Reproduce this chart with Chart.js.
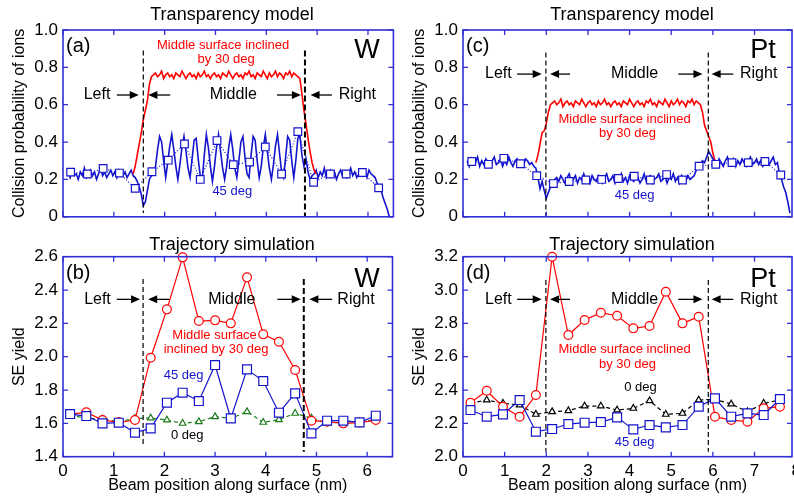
<!DOCTYPE html>
<html>
<head>
<meta charset="utf-8">
<script src="https://cdn.jsdelivr.net/npm/chart.js@4.4.1/dist/chart.umd.min.js"></script>
<style>
  html, body { margin: 0; padding: 0; background: #fff; overflow: hidden; }
  #wrap { position: relative; width: 794px; height: 498px; overflow: hidden; }
  canvas { position: absolute; }
</style>
</head>
<body>
<div id="wrap">
  <canvas id="ca" width="400" height="232" style="left:0;top:0"></canvas>
  <canvas id="cb" width="400" height="266" style="left:0;top:232px"></canvas>
  <canvas id="cc" width="420" height="232" style="left:400px;top:0"></canvas>
  <canvas id="cd" width="420" height="266" style="left:400px;top:232px"></canvas>
</div>
<script>
// ---- tick values ----
const xTicksW = [0, 1, 2, 3, 4, 5, 6];
const xTicksPt = [0, 1, 2, 3, 4, 5, 6, 7, 8];
const yTicksProb = [0, 0.2, 0.4, 0.6, 0.8, 1.0];
const yTicksSeW = [1.4, 1.6, 1.8, 2.0, 2.2, 2.4, 2.6];
const yTicksSePt = [2.0, 2.2, 2.4, 2.6, 2.8, 3.0, 3.2];

// ---- (a) W, transparency model: traces sampled every 0.04 nm ----
const aBlueX0 = 0.10, aRedX0 = 1.38, aStep = 0.04;
const aBlue45 = [
  0.24,0.21,0.25,0.22,0.23,0.20,0.24,0.22,0.26,0.21,0.23,0.25,0.22,0.24,0.20,0.23,0.26,0.22,0.24,0.21,0.23,0.25,0.22,0.24,0.21,0.25,0.23,0.22,0.24,0.21,0.23,0.25,0.22,
  0.21,0.19,0.16,0.12,0.06,0.08,0.14,0.20,0.22,0.23,
  0.27,0.36,0.43,0.40,0.30,0.21,0.29,0.38,0.44,0.36,
  0.27,0.20,0.28,0.37,0.43,0.35,0.26,0.21,0.31,0.41,
  0.42,0.31,0.22,0.20,0.33,0.44,0.37,0.27,0.19,0.27,
  0.37,0.44,0.35,0.26,0.20,0.27,0.37,0.44,0.36,0.26,
  0.21,0.30,0.40,0.43,0.32,0.23,0.21,0.33,0.43,0.41,
  0.30,0.21,0.27,0.37,0.44,0.35,0.26,0.20,0.28,0.38,
  0.44,0.34,0.24,0.21,0.32,0.43,0.41,0.30,0.21,0.30,
  0.42,0.44,0.33,0.27,0.31,0.24,0.20,0.22,
  0.23,0.25,0.21,0.24,0.22,0.26,0.21,0.23,0.25,0.22,0.24,0.20,0.23,0.25,0.22,0.24,0.21,0.23,0.26,0.22,0.24,0.21,0.23,0.25,0.22,0.24,0.21,0.25,0.23,0.22,
  0.21,0.18,0.16,0.14,0.10,0.07,0.04,0.00
];
const aRed30 = [
  0.23,0.27,0.33,0.39,0.45,0.52,0.57,0.62,0.71,0.75,0.76,
  0.77,0.75,0.76,0.78,0.74,0.76,0.77,0.75,0.76,0.74,
  0.77,0.76,0.75,0.78,0.76,0.74,0.76,0.77,0.75,0.76,
  0.74,0.77,0.75,0.76,0.78,0.75,0.76,0.74,0.76,0.77,
  0.75,0.76,0.74,0.77,0.76,0.75,0.78,0.76,0.74,0.76,
  0.77,0.75,0.76,0.74,0.77,0.76,0.78,0.75,0.76,0.74,
  0.77,0.76,0.75,0.78,0.76,0.74,0.77,0.75,0.76,0.78,
  0.75,0.77,0.76,0.74,0.77,0.76,0.78,0.75,0.77,0.76,
  0.75,
  0.74,0.66,0.57,0.50,0.42,0.35,0.29,0.25,0.23
];
const aSqX = [0.15,0.48,0.79,1.11,1.42,1.75,2.07,2.39,2.70,3.03,3.35,3.67,3.98,4.30,4.62,4.93,5.26,5.57,5.89,6.21];
const aSqY = [0.239,0.229,0.259,0.234,0.152,0.241,0.303,0.390,0.200,0.408,0.279,0.293,0.374,0.229,0.456,0.185,0.229,0.229,0.237,0.155];

// ---- (c) Pt, transparency model: traces sampled every 0.05 nm ----
const cBlueX0 = 0.10, cRedX0 = 1.75, cStep = 0.05;
const cBlue45 = [
  0.30,0.27,0.31,0.28,0.29,0.32,0.27,0.30,0.28,0.31,0.29,0.27,0.30,0.32,0.28,0.29,0.31,0.27,0.30,0.28,0.32,0.29,0.27,0.30,0.31,0.28,0.29,0.27,0.31,0.30,0.28,0.29,0.27,
  0.26,0.21,0.15,0.19,0.14,0.10,0.13,0.16,0.18,0.20,
  0.21,0.19,0.22,0.20,0.18,0.21,0.23,0.19,0.20,0.22,
  0.18,0.21,0.20,0.23,0.19,0.21,0.18,0.22,0.20,0.19,
  0.22,0.20,0.18,0.21,0.23,0.19,0.20,0.22,0.18,0.21,
  0.20,0.23,0.19,0.21,0.18,0.22,0.20,0.19,0.22,0.21,
  0.18,0.20,0.23,0.19,0.21,0.22,0.18,0.20,0.21,0.23,
  0.19,0.20,0.22,0.18,0.21,0.20,0.23,0.19,0.21,0.18,
  0.22,0.20,0.19,0.22,0.20,0.21,
  0.22,0.25,0.27,0.28,0.30,0.29,0.32,0.35,0.33,0.31,
  0.30,0.28,0.31,0.29,0.27,0.30,0.32,0.28,0.29,0.31,0.27,0.30,0.28,0.31,0.29,0.27,0.30,0.32,0.28,0.29,0.31,0.28,0.30,0.27,0.29,0.31,0.28,0.30,0.32,0.28,0.29,
  0.23,0.20,0.16,0.13,0.08,0.02
];
const cRed30 = [
  0.29,0.33,0.39,0.45,0.46,0.50,0.56,0.60,0.61,
  0.62,0.60,0.61,0.63,0.59,0.61,0.62,0.60,0.61,0.59,
  0.62,0.61,0.60,0.63,0.61,0.59,0.61,0.62,0.60,0.61,
  0.59,0.62,0.60,0.61,0.63,0.60,0.61,0.59,0.61,0.62,
  0.60,0.61,0.59,0.62,0.61,0.60,0.63,0.61,0.59,0.61,
  0.62,0.60,0.61,0.59,0.62,0.61,0.63,0.60,0.61,0.59,
  0.62,0.61,0.60,0.63,0.61,0.59,0.62,0.60,0.61,0.63,
  0.60,0.62,0.61,0.59,0.62,0.61,0.63,0.60,0.62,0.61,
  0.60,
  0.56,0.49,0.46,0.43,0.40,0.34,0.30
];
const cSqX = [0.21,0.61,0.98,1.38,1.77,2.17,2.55,2.95,3.33,3.73,4.11,4.50,4.89,5.27,5.67,6.07,6.46,6.85,7.25,7.63];
const cSqY = [0.296,0.281,0.313,0.284,0.220,0.178,0.189,0.197,0.200,0.205,0.217,0.197,0.226,0.197,0.271,0.281,0.290,0.290,0.296,0.224];

// ---- (b) W, trajectory simulation ----
const bX = [0.14,0.46,0.78,1.10,1.42,1.73,2.05,2.36,2.68,3.00,3.31,3.63,3.95,4.26,4.58,4.90,5.21,5.53,5.85,6.17];
const bRed30 = [1.656,1.666,1.620,1.606,1.620,1.994,2.284,2.596,2.214,2.218,2.200,2.476,2.134,2.090,1.920,1.616,1.610,1.600,1.605,1.620];
const bBlue45 = [1.656,1.644,1.600,1.604,1.544,1.570,1.724,1.784,1.734,1.950,1.630,1.924,1.854,1.664,1.780,1.540,1.616,1.616,1.606,1.646];
const bGreen0 = [1.650,1.630,1.626,1.610,1.630,1.632,1.620,1.600,1.610,1.640,1.630,1.670,1.606,1.622,1.660,1.632,1.600,1.610,1.610,1.620];

// ---- (d) Pt, trajectory simulation ----
const dX = [0.18,0.57,0.96,1.36,1.75,2.14,2.53,2.92,3.31,3.70,4.09,4.48,4.87,5.27,5.66,6.05,6.44,6.83,7.22,7.61];
const dRed30 = [2.324,2.396,2.300,2.240,2.370,3.200,2.730,2.820,2.864,2.846,2.770,2.784,2.990,2.800,2.840,2.240,2.220,2.210,2.290,2.300];
const dBlue45 = [2.280,2.240,2.254,2.340,2.150,2.166,2.196,2.204,2.208,2.236,2.164,2.190,2.176,2.190,2.300,2.350,2.240,2.260,2.250,2.346];
const dBlack0 = [2.320,2.340,2.320,2.310,2.254,2.270,2.276,2.304,2.304,2.280,2.290,2.336,2.254,2.260,2.340,2.344,2.316,2.270,2.320,2.340];

// ---- styling ----
const FONT = '"Liberation Sans", Arial, Helvetica, sans-serif';
const FRAME = '#3030d4';
const RED = '#ff0000';
const BLUE = '#1414cc';
const GREEN = '#1e7a1e';

const sampled = (x0, step, ys) => ys.map((y, i) => ({ x: +(x0 + i * step).toFixed(3), y }));
const pairs = (xs, ys) => xs.map((x, i) => ({ x, y: ys[i] }));

const trace = (data, color) => ({ data, borderColor: color, borderWidth: 1.6, pointRadius: 0, tension: 0 });
const marked = (data, color, style, r, dash) => ({
  data, borderColor: color, borderWidth: 1.2, borderDash: dash || [],
  pointStyle: style, pointRadius: r, pointBorderWidth: 1.2,
  pointBorderColor: color, pointBackgroundColor: '#fff', tension: 0, clip: false
});

const specs = {};

function arrow(ctx, x1, x2, y) {
  const d = Math.sign(x2 - x1);
  ctx.beginPath();
  ctx.moveTo(x1, y);
  ctx.lineTo(x2 - d * 6, y);
  ctx.stroke();
  ctx.beginPath();
  ctx.moveTo(x2, y);
  ctx.lineTo(x2 - d * 9, y - 4);
  ctx.lineTo(x2 - d * 9, y + 4);
  ctx.closePath();
  ctx.fill();
}

const decor = {
  id: 'decor',
  afterDraw(chart) {
    const s = specs[chart.canvas.id];
    if (!s) return;
    const ctx = chart.ctx, xs = chart.scales.x, ys = chart.scales.y, a = chart.chartArea;
    ctx.save();
    // region boundaries
    ctx.strokeStyle = '#000';
    s.bounds.forEach(b => {
      const X = xs.getPixelForValue(b.x);
      ctx.setLineDash(b.dash);
      ctx.lineWidth = b.w;
      ctx.beginPath();
      ctx.moveTo(X, ys.getPixelForValue(b.y1));
      ctx.lineTo(X, ys.getPixelForValue(b.y2));
      ctx.stroke();
    });
    ctx.setLineDash([]);
    // frame with inward ticks on all four sides
    ctx.strokeStyle = FRAME;
    ctx.lineWidth = 1.6;
    ctx.strokeRect(a.left, a.top, a.right - a.left, a.bottom - a.top);
    ctx.lineWidth = 1.3;
    ctx.beginPath();
    xs.ticks.forEach(t => {
      if (t.value > xs.max + 1e-6) return;
      const X = xs.getPixelForValue(t.value);
      ctx.moveTo(X, a.bottom); ctx.lineTo(X, a.bottom - 5);
      ctx.moveTo(X, a.top); ctx.lineTo(X, a.top + 5);
    });
    ys.ticks.forEach(t => {
      const Y = ys.getPixelForValue(t.value);
      ctx.moveTo(a.left, Y); ctx.lineTo(a.left + 5, Y);
      ctx.moveTo(a.right, Y); ctx.lineTo(a.right - 5, Y);
    });
    ctx.stroke();
    // arrows
    ctx.strokeStyle = '#000';
    ctx.fillStyle = '#000';
    ctx.lineWidth = 1.3;
    s.arrows.forEach(r => {
      arrow(ctx, xs.getPixelForValue(r[0]), xs.getPixelForValue(r[1]), ys.getPixelForValue(s.rowY));
    });
    // texts in data coordinates
    ctx.textBaseline = 'middle';
    ctx.textAlign = 'center';
    s.labels.forEach(l => {
      ctx.font = l.size + 'px ' + FONT;
      ctx.fillStyle = l.color;
      ctx.fillText(l.t, xs.getPixelForValue(l.x), ys.getPixelForValue(l.y));
    });
    // titles and panel marks
    s.marks.forEach(m => {
      ctx.font = m.size + 'px ' + FONT;
      ctx.fillStyle = '#000';
      ctx.textAlign = m.align;
      ctx.fillText(m.t, m.x, m.y);
    });
    ctx.restore();
  }
};

function panel(id, p) {
  specs[id] = p.spec;
  const tickFont = { family: FONT, size: 17 };
  return new Chart(document.getElementById(id), {
    type: 'line',
    data: { datasets: p.datasets },
    options: {
      responsive: false,
      animation: false,
      events: [],
      layout: { padding: { top: p.padTop, right: p.padRight, left: 0, bottom: 0 } },
      plugins: { legend: { display: false }, tooltip: { enabled: false } },
      scales: {
        x: {
          type: 'linear', min: 0, max: p.xMax,
          afterBuildTicks: sc => { sc.ticks = p.xTicks.map(v => ({ value: v })); },
          afterFit: sc => { sc.height = p.xH; },
          ticks: { display: p.xLabels, padding: 4, color: '#000', font: tickFont, maxRotation: 0, autoSkip: false,
                   callback: v => String(v) },
          grid: { display: false, drawTicks: false },
          border: { display: false },
          title: { display: p.xLabels, text: 'Beam position along surface (nm)', color: '#000',
                   font: { family: FONT, size: 16 }, padding: { top: 0, bottom: 3 } }
        },
        y: {
          type: 'linear', min: p.yMin, max: p.yMax,
          afterBuildTicks: sc => { sc.ticks = p.yTicks.map(v => ({ value: v })); },
          afterFit: sc => { sc.width = 63; },
          ticks: { padding: 5, color: '#000', font: tickFont, callback: v => (v === 0 ? '0' : v.toFixed(1)) },
          grid: { display: false, drawTicks: false },
          border: { display: false },
          title: { display: true, text: p.yTitle, color: '#000', font: { family: FONT, size: 16 }, padding: { top: 10, bottom: 0 } }
        }
      }
    },
    plugins: [decor]
  });
}

const thin = [5, 3], thick = [6, 3];

panel('ca', {
  padTop: 30, padRight: 5, xH: 4, xMax: 6.5, xLabels: false, xTicks: xTicksW,
  yMin: 0, yMax: 1, yTicks: yTicksProb, yTitle: 'Collision probability of ions',
  datasets: [
    marked(pairs(aSqX, aSqY), BLUE, 'rect', 5.4, [1, 2]),
    trace(sampled(aRedX0, aStep, aRed30), RED),
    trace(sampled(aBlueX0, aStep, aBlue45), BLUE)
  ],
  spec: {
    bounds: [{ x: 1.58, y1: 0.89, y2: 0.02, w: 1.2, dash: thin }, { x: 4.76, y1: 0.89, y2: 0, w: 2, dash: thick }],
    rowY: 0.652,
    arrows: [[1.06, 1.49], [2.11, 1.68], [4.21, 4.68], [5.29, 4.87]],
    labels: [
      { t: 'Middle surface inclined', x: 3.15, y: 0.92, size: 13, color: RED },
      { t: 'by 30 deg', x: 3.21, y: 0.845, size: 13, color: RED },
      { t: '45 deg', x: 3.33, y: 0.136, size: 13, color: BLUE },
      { t: 'Left', x: 0.67, y: 0.652, size: 16, color: '#000' },
      { t: 'Middle', x: 3.35, y: 0.652, size: 16, color: '#000' },
      { t: 'Right', x: 5.79, y: 0.652, size: 16, color: '#000' }
    ],
    marks: [
      { t: 'Transparency model', x: 232, y: 15, size: 18, align: 'center' },
      { t: '(a)', x: 66, y: 46, size: 20, align: 'left' },
      { t: 'W', x: 367, y: 51, size: 27, align: 'center' }
    ]
  }
});

panel('cb', {
  padTop: 24.7, padRight: 6, xH: 41.3, xMax: 6.5, xLabels: true, xTicks: xTicksW,
  yMin: 1.4, yMax: 2.6, yTicks: yTicksSeW, yTitle: 'SE yield',
  datasets: [
    marked(pairs(bX, bBlue45), BLUE, 'rect', 6.3),
    marked(pairs(bX, bRed30), RED, 'circle', 4.4),
    marked(pairs(bX, bGreen0), GREEN, 'triangle', 3.8, [4, 3])
  ],
  spec: {
    bounds: [{ x: 1.58, y1: 2.466, y2: 1.458, w: 1.2, dash: thin }, { x: 4.75, y1: 2.466, y2: 1.43, w: 2, dash: thick }],
    rowY: 2.344,
    arrows: [[1.06, 1.52], [2.10, 1.68], [4.23, 4.69], [5.31, 4.86]],
    labels: [
      { t: 'Middle surface', x: 2.99, y: 2.13, size: 13, color: RED },
      { t: 'inclined by 30 deg', x: 3.02, y: 2.044, size: 13, color: RED },
      { t: '45 deg', x: 2.38, y: 1.89, size: 13, color: BLUE },
      { t: '0 deg', x: 2.45, y: 1.53, size: 13, color: '#000' },
      { t: 'Left', x: 0.68, y: 2.344, size: 16, color: '#000' },
      { t: 'Middle', x: 3.33, y: 2.344, size: 16, color: '#000' },
      { t: 'Right', x: 5.78, y: 2.344, size: 16, color: '#000' }
    ],
    marks: [
      { t: 'Trajectory simulation', x: 232, y: 13, size: 18, align: 'center' },
      { t: '(b)', x: 66, y: 41, size: 20, align: 'left' },
      { t: 'W', x: 367, y: 48, size: 27, align: 'center' }
    ]
  }
});

panel('cc', {
  padTop: 30, padRight: 28, xH: 4, xMax: 7.9, xLabels: false, xTicks: xTicksPt,
  yMin: 0, yMax: 1, yTicks: yTicksProb, yTitle: 'Collision probability of ions',
  datasets: [
    marked(pairs(cSqX, cSqY), BLUE, 'rect', 5.4, [1, 2]),
    trace(sampled(cBlueX0, cStep, cBlue45), BLUE),
    trace(sampled(cRedX0, cStep, cRed30), RED)
  ],
  spec: {
    bounds: [{ x: 1.99, y1: 0.88, y2: 0, w: 1.2, dash: thin }, { x: 5.89, y1: 0.88, y2: 0, w: 1.2, dash: thin }],
    rowY: 0.764,
    arrows: [[1.30, 1.89], [2.57, 2.09], [5.17, 5.75], [6.49, 5.97]],
    labels: [
      { t: 'Middle surface inclined', x: 3.88, y: 0.52, size: 13, color: RED },
      { t: 'by 30 deg', x: 3.95, y: 0.448, size: 13, color: RED },
      { t: '45 deg', x: 4.12, y: 0.113, size: 13, color: BLUE },
      { t: 'Left', x: 0.85, y: 0.764, size: 16, color: '#000' },
      { t: 'Middle', x: 4.12, y: 0.764, size: 16, color: '#000' },
      { t: 'Right', x: 7.10, y: 0.764, size: 16, color: '#000' }
    ],
    marks: [
      { t: 'Transparency model', x: 232, y: 15, size: 18, align: 'center' },
      { t: '(c)', x: 66, y: 46, size: 20, align: 'left' },
      { t: 'Pt', x: 363, y: 51, size: 27, align: 'center' }
    ]
  }
});

panel('cd', {
  padTop: 24.7, padRight: 28, xH: 41.3, xMax: 7.9, xLabels: true, xTicks: xTicksPt,
  yMin: 2.0, yMax: 3.2, yTicks: yTicksSePt, yTitle: 'SE yield',
  datasets: [
    marked(pairs(dX, dBlue45), BLUE, 'rect', 6.3),
    marked(pairs(dX, dRed30), RED, 'circle', 4.4),
    marked(pairs(dX, dBlack0), '#000', 'triangle', 3.8, [4, 3])
  ],
  spec: {
    bounds: [{ x: 1.99, y1: 3.06, y2: 2.03, w: 1.2, dash: thin }, { x: 5.89, y1: 3.06, y2: 2.03, w: 1.2, dash: thin }],
    rowY: 2.944,
    arrows: [[1.30, 1.89], [2.57, 2.09], [5.17, 5.75], [6.49, 5.97]],
    labels: [
      { t: 'Middle surface inclined', x: 3.88, y: 2.644, size: 13, color: RED },
      { t: 'by 30 deg', x: 3.95, y: 2.556, size: 13, color: RED },
      { t: '0 deg', x: 4.26, y: 2.414, size: 13, color: '#000' },
      { t: '45 deg', x: 4.12, y: 2.084, size: 13, color: BLUE },
      { t: 'Left', x: 0.85, y: 2.944, size: 16, color: '#000' },
      { t: 'Middle', x: 4.12, y: 2.944, size: 16, color: '#000' },
      { t: 'Right', x: 7.10, y: 2.944, size: 16, color: '#000' }
    ],
    marks: [
      { t: 'Trajectory simulation', x: 232, y: 13, size: 18, align: 'center' },
      { t: '(d)', x: 66, y: 41, size: 20, align: 'left' },
      { t: 'Pt', x: 363, y: 48, size: 27, align: 'center' }
    ]
  }
});
</script>
</body>
</html>
